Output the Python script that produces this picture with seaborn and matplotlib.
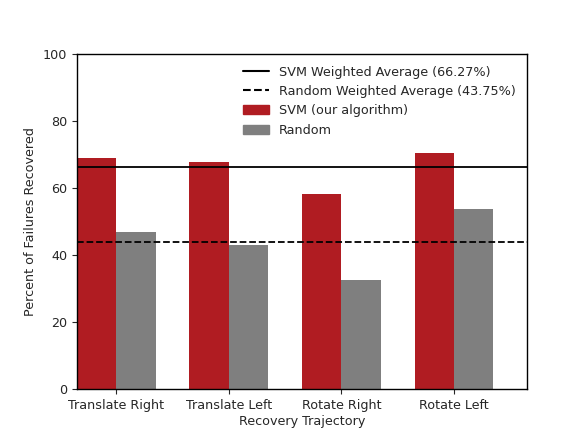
import matplotlib
matplotlib.use("Agg")
import matplotlib.pyplot as plt
import seaborn as sns
import pandas as pd
from matplotlib.lines import Line2D
from matplotlib.patches import Patch

categories = ["Translate Right", "Translate Left", "Rotate Right", "Rotate Left"]
svm_values = [69.0, 67.8, 58.2, 70.4]
random_values = [46.9, 43.0, 32.5, 53.7]
svm_avg = 66.27
random_avg = 43.75
series_names = ["SVM (our algorithm)", "Random"]

df = pd.DataFrame({
    "Trajectory": categories * 2,
    "Value": svm_values + random_values,
    "Method": [series_names[0]] * 4 + [series_names[1]] * 4,
})

sns.set_style("ticks")
plt.rcParams["font.family"] = ["DejaVu Sans"]

fig = plt.figure(figsize=(5.77, 4.30), dpi=100)
ax = fig.add_axes([0.1334, 0.0953, 0.78, 0.7791])

red = "#B01C22"
gray = "#7F7F7F"
sns.barplot(data=df, x="Trajectory", y="Value", hue="Method",
            palette=[red, gray], width=0.7, legend=False, ax=ax,
            saturation=1, errorbar=None, linewidth=0)

ax.axhline(svm_avg, color="black", lw=1.3, ls="-")
ax.axhline(random_avg, color="black", lw=1.3, ls="--")

fs = 9.2
ax.set_xlim(-0.35, 3.65)
ax.set_ylim(0, 100)
ax.set_yticks([0, 20, 40, 60, 80, 100])
ax.set_xlabel("Recovery Trajectory", fontsize=fs, labelpad=2)
ax.set_ylabel("Percent of Failures Recovered", fontsize=fs)
ax.tick_params(labelsize=fs)
for s in ax.spines.values():
    s.set_visible(True)
    s.set_color("black")
    s.set_linewidth(1.0)

handles = [
    Line2D([0], [0], color="black", lw=1.5, ls="-"),
    Line2D([0], [0], color="black", lw=1.5, ls="--"),
    Patch(color=red),
    Patch(color=gray),
]
labels = [
    f"SVM Weighted Average ({svm_avg:.2f}%)",
    f"Random Weighted Average ({random_avg:.2f}%)",
    series_names[0],
    series_names[1],
]
ax.legend(handles, labels, loc="upper right", frameon=False, fontsize=fs)

fig.savefig("out.png", dpi=100)
